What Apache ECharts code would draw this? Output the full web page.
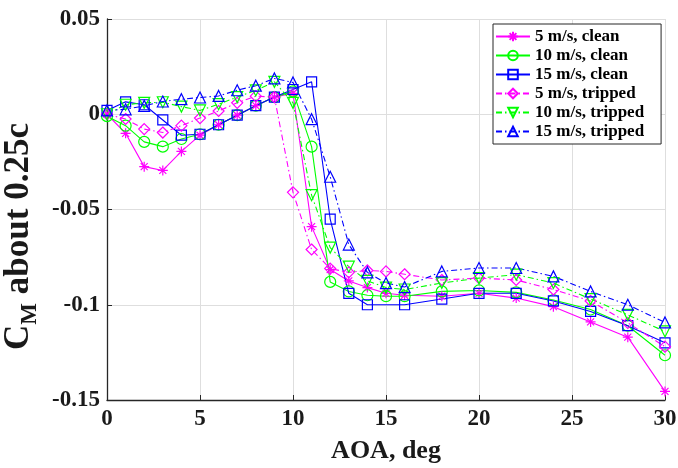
<!DOCTYPE html>
<html>
<head>
<meta charset="utf-8">
<script src="https://cdn.jsdelivr.net/npm/echarts@6/dist/echarts.min.js"></script>
<style>
  html, body { margin: 0; padding: 0; background: #fff; }
  #chart { width: 678px; height: 468px; }
</style>
</head>
<body>
<div id="chart"></div>
<script>
// Angle of attack (deg) at which the pitching moment was measured
const aoa = [0, 1, 2, 3, 4, 5, 6, 7, 8, 9, 10, 11, 12, 13, 14, 15, 16, 18, 20, 22, 24, 26, 28, 30];
// The 15 m/s clean run skips 15 deg
const aoaNo15 = [0, 1, 2, 3, 4, 5, 6, 7, 8, 9, 10, 11, 12, 13, 14, 16, 18, 20, 22, 24, 26, 28, 30];

// Pitching moment coefficient about the quarter chord
const cmClean5 = [0, -0.010, -0.0275, -0.0295, -0.0195, -0.011, -0.0055, -0.0005, 0.0045, 0.009, 0.011, -0.059,
  -0.0815, -0.0875, -0.091, -0.094, -0.095, -0.0955, -0.094, -0.0965, -0.101, -0.109, -0.117, -0.1455];
const cmClean10 = [-0.001, -0.006, -0.0145, -0.017, -0.013, -0.0105, -0.0055, -0.0005, 0.0045, 0.009, 0.012, -0.017,
  -0.088, -0.093, -0.095, -0.0955, -0.0955, -0.093, -0.0925, -0.0935, -0.0975, -0.1025, -0.111, -0.1265];
const cmClean15 = [0.002, 0.0065, 0.005, -0.003, -0.011, -0.0105, -0.0055, -0.0005, 0.0045, 0.009, 0.013, 0.017,
  -0.055, -0.094, -0.100, -0.100, -0.097, -0.094, -0.094, -0.098, -0.1035, -0.111, -0.120];
const cmTripped5 = [0, -0.0025, -0.0078, -0.0096, -0.006, -0.002, 0.0017, 0.006, 0.0095, 0.009, -0.041, -0.071,
  -0.081, -0.083, -0.082, -0.0825, -0.084, -0.087, -0.086, -0.087, -0.092, -0.098, -0.1095, -0.122];
const cmTripped10 = [0, 0.005, 0.006, 0.0063, 0.004, 0.002, 0.0053, 0.009, 0.0125, 0.017, 0.006, -0.0425,
  -0.070, -0.080, -0.0875, -0.091, -0.092, -0.0886, -0.086, -0.0842, -0.0886, -0.097, -0.1053, -0.114];
const cmTripped15 = [0.002, 0.0026, 0.0044, 0.0067, 0.0079, 0.0088, 0.0096, 0.0126, 0.015, 0.0188, 0.0167, -0.0026,
  -0.0328, -0.0684, -0.083, -0.0886, -0.0907, -0.0825, -0.0807, -0.0807, -0.0851, -0.093, -0.100, -0.1093];

const seriesNames = ['5 m/s, clean', '10 m/s, clean', '15 m/s, clean',
  '5 m/s, tripped', '10 m/s, tripped', '15 m/s, tripped'];

const xTicks = [0, 5, 10, 15, 20, 25, 30];
const yTicks = [-0.15, -0.1, -0.05, 0, 0.05];

const MAGENTA = '#ff00ff', GREEN = '#00ff00', BLUE = '#0000ff';
const FONT = '"Liberation Serif", "Times New Roman", serif';

// Marker shapes
const ASTERISK = 'path://M5,0L5,10M0,5L10,5M1.5,1.5L8.5,8.5M1.5,8.5L8.5,1.5';
const TRI_DOWN = 'path://M0,0L11.5,0L5.75,10Z';
const TRI_UP = 'path://M5.75,0L11.5,10L0,10Z';

const DASH_DOT = [6, 3, 1.5, 3];

function pairs(xs, ys) {
  return xs.map((x, i) => [x, ys[i]]);
}

function makeSeries(name, xs, ys, color, symbol, size, dashed) {
  return {
    name: name,
    type: 'line',
    data: pairs(xs, ys),
    symbol: symbol,
    symbolSize: size,
    showAllSymbol: true,
    animation: false,
    lineStyle: { color: color, width: 1.1, type: dashed ? DASH_DOT : 'solid' },
    itemStyle: { color: 'rgba(0,0,0,0)', borderColor: color, borderWidth: 1.2 },
    emphasis: { disabled: true }
  };
}

const series = [
  makeSeries(seriesNames[0], aoa, cmClean5, MAGENTA, ASTERISK, 10, false),
  makeSeries(seriesNames[1], aoa, cmClean10, GREEN, 'circle', 11, false),
  makeSeries(seriesNames[2], aoaNo15, cmClean15, BLUE, 'rect', 10, false),
  makeSeries(seriesNames[3], aoa, cmTripped5, MAGENTA, 'diamond', 11, true),
  makeSeries(seriesNames[4], aoa, cmTripped10, GREEN, TRI_DOWN, 11, true),
  makeSeries(seriesNames[5], aoa, cmTripped15, BLUE, TRI_UP, 11, true)
];

const chart = echarts.init(document.getElementById('chart'), null, { renderer: 'canvas' });

const axisLabelStyle = { fontFamily: FONT, fontWeight: 'bold', fontSize: 23, color: '#1a1a1a' };

chart.setOption({
  backgroundColor: '#fff',
  animation: false,
  grid: { left: 107, right: 13, top: 19, bottom: 68, containLabel: false, outerBoundsMode: 'none' },
  legend: {
    data: seriesNames,
    orient: 'vertical',
    left: 493,
    top: 24,
    itemWidth: 34,
    itemHeight: 12,
    itemGap: 2,
    padding: [4, 17, 4, 2],
    borderColor: '#262626',
    borderWidth: 1,
    backgroundColor: '#fff',
    textStyle: { fontFamily: FONT, fontWeight: 'bold', fontSize: 17, color: '#000', lineHeight: 16 },
    selectedMode: false
  },
  xAxis: {
    type: 'value',
    min: xTicks[0],
    max: xTicks[xTicks.length - 1],
    interval: xTicks[1] - xTicks[0],
    name: 'AOA, deg',
    nameLocation: 'middle',
    nameGap: 38,
    nameTextStyle: { fontFamily: FONT, fontWeight: 'bold', fontSize: 26, color: '#1a1a1a' },
    axisLine: { onZero: false, lineStyle: { color: '#262626', width: 1.3 } },
    axisTick: { inside: true, length: 5, lineStyle: { color: '#262626' } },
    axisLabel: Object.assign({ margin: 8 }, axisLabelStyle),
    splitLine: { show: true, lineStyle: { color: '#dedede', width: 1 } }
  },
  yAxis: {
    type: 'value',
    min: yTicks[0],
    max: yTicks[yTicks.length - 1],
    interval: 0.05,
    name: '{c|C}{s|M}{c| about 0.25c}',
    nameLocation: 'middle',
    nameRotate: 90,
    nameGap: 46,
    nameTextStyle: {
      padding: [0, 54, 0, 0],
      rich: {
        c: { fontFamily: FONT, fontWeight: 'bold', fontSize: 35, color: '#1a1a1a', lineHeight: 44, verticalAlign: 'middle' },
        s: { fontFamily: FONT, fontWeight: 'bold', fontSize: 23, color: '#1a1a1a', lineHeight: 44, verticalAlign: 'bottom' }
      }
    },
    axisLine: { onZero: false, lineStyle: { color: '#262626', width: 1.3 } },
    axisTick: { inside: true, length: 5, lineStyle: { color: '#262626' } },
    axisLabel: Object.assign({
      margin: 7,
      formatter: function (v) {
        const t = yTicks.find(function (k) { return Math.abs(k - v) < 1e-9; });
        return t === undefined ? '' : String(t);
      }
    }, axisLabelStyle),
    splitLine: { show: true, lineStyle: { color: '#dedede', width: 1 } }
  },
  series: series
});
</script>
</body>
</html>
